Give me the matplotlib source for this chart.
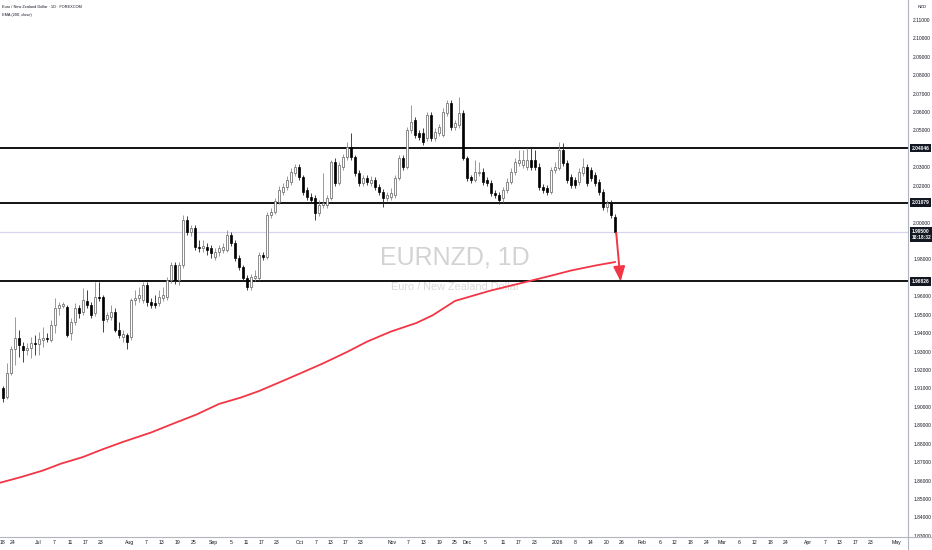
import matplotlib
matplotlib.use("Agg")
import matplotlib.pyplot as plt
from matplotlib.lines import Line2D

plt.rcParams["font.family"] = ["Liberation Sans Narrow", "Liberation Sans", "DejaVu Sans"]

# daily candles, bar index 0 = Jun 18 2025
opens = [
    1.9103, 1.9054, 1.9185, 1.9314, 1.9374, 1.9331, 1.9309, 1.9320, 1.9347, 1.9342,
    1.9363, 1.9374, 1.9363, 1.9445, 1.9537, 1.9548, 1.9542, 1.9401, 1.9461, 1.9537,
    1.9515, 1.9575, 1.9553, 1.9510, 1.9597, 1.9597, 1.9477, 1.9488, 1.9515, 1.9418,
    1.9380, 1.9390, 1.9380, 1.9580, 1.9591, 1.9580, 1.9662, 1.9569, 1.9564, 1.9564,
    1.9591, 1.9597, 1.9689, 1.9770, 1.9689, 1.9770, 2.0014, 1.9949, 1.9971, 1.9868,
    1.9862, 1.9868, 1.9862, 1.9814, 1.9841, 1.9852, 1.9852, 1.9933, 1.9890, 1.9808,
    1.9759, 1.9700, 1.9651, 1.9700, 1.9700, 1.9824, 1.9814, 2.0041, 2.0058, 2.0112,
    2.0166, 2.0193, 2.0220, 2.0269, 2.0302, 2.0248, 2.0177, 2.0139, 2.0134, 2.0052,
    2.0096, 2.0096, 2.0134, 2.0329, 2.0215, 2.0302, 2.0356, 2.0410, 2.0356, 2.0269,
    2.0215, 2.0242, 2.0215, 2.0231, 2.0193, 2.0166, 2.0134, 2.0139, 2.0150, 2.0242,
    2.0351, 2.0302, 2.0503, 2.0557, 2.0486, 2.0486, 2.0459, 2.0584, 2.0459, 2.0486,
    2.0475, 2.0595, 2.0649, 2.0519, 2.0530, 2.0595, 2.0351, 2.0248, 2.0231, 2.0269,
    2.0275, 2.0231, 2.0215, 2.0161, 2.0150, 2.0134, 2.0177, 2.0220, 2.0275, 2.0324,
    2.0313, 2.0302, 2.0340, 2.0340, 2.0302, 2.0193, 2.0188, 2.0166, 2.0286, 2.0296,
    2.0394, 2.0324, 2.0248, 2.0231, 2.0220, 2.0269, 2.0302, 2.0286, 2.0258, 2.0220,
    2.0166, 2.0085, 2.0107, 2.0031,
]
highs = [
    1.9114, 1.9239, 1.9331, 1.9488, 1.9418, 1.9352, 1.9347, 1.9380, 1.9390, 1.9407,
    1.9434, 1.9401, 1.9472, 1.9591, 1.9569, 1.9569, 1.9553, 1.9483, 1.9564, 1.9553,
    1.9645, 1.9635, 1.9569, 1.9678, 1.9678, 1.9607, 1.9515, 1.9553, 1.9537, 1.9461,
    1.9418, 1.9401, 1.9591, 1.9635, 1.9651, 1.9678, 1.9678, 1.9591, 1.9607, 1.9635,
    1.9651, 1.9705, 1.9786, 1.9786, 1.9786, 2.0041, 2.0036, 1.9987, 1.9987, 1.9906,
    1.9906, 1.9890, 1.9879, 1.9862, 1.9879, 1.9890, 1.9960, 1.9949, 1.9906, 1.9824,
    1.9770, 1.9716, 1.9721, 1.9743, 1.9841, 1.9841, 2.0058, 2.0080, 2.0134, 2.0199,
    2.0215, 2.0253, 2.0296, 2.0318, 2.0318, 2.0258, 2.0193, 2.0161, 2.0150, 2.0123,
    2.0269, 2.0150, 2.0340, 2.0351, 2.0329, 2.0373, 2.0437, 2.0486, 2.0367, 2.0286,
    2.0258, 2.0258, 2.0253, 2.0248, 2.0210, 2.0182, 2.0166, 2.0188, 2.0258, 2.0367,
    2.0367, 2.0519, 2.0638, 2.0573, 2.0503, 2.0513, 2.0600, 2.0600, 2.0513, 2.0535,
    2.0622, 2.0665, 2.0665, 2.0557, 2.0682, 2.0611, 2.0362, 2.0258, 2.0340, 2.0329,
    2.0296, 2.0248, 2.0231, 2.0177, 2.0166, 2.0193, 2.0242, 2.0296, 2.0351, 2.0394,
    2.0394, 2.0405, 2.0405, 2.0394, 2.0324, 2.0210, 2.0204, 2.0302, 2.0329, 2.0437,
    2.0432, 2.0340, 2.0264, 2.0248, 2.0296, 2.0351, 2.0318, 2.0302, 2.0275, 2.0237,
    2.0182, 2.0123, 2.0123, 2.0047,
]
lows = [
    1.9027, 1.9043, 1.9174, 1.9228, 1.9271, 1.9244, 1.9282, 1.9266, 1.9282, 1.9282,
    1.9325, 1.9352, 1.9352, 1.9401, 1.9499, 1.9537, 1.9380, 1.9363, 1.9445, 1.9483,
    1.9499, 1.9537, 1.9483, 1.9494, 1.9575, 1.9407, 1.9461, 1.9472, 1.9407, 1.9374,
    1.9352, 1.9314, 1.9363, 1.9553, 1.9569, 1.9564, 1.9548, 1.9537, 1.9537, 1.9548,
    1.9575, 1.9580, 1.9673, 1.9667, 1.9662, 1.9754, 1.9933, 1.9928, 1.9852, 1.9841,
    1.9841, 1.9824, 1.9808, 1.9797, 1.9819, 1.9835, 1.9841, 1.9873, 1.9792, 1.9743,
    1.9684, 1.9635, 1.9635, 1.9684, 1.9689, 1.9797, 1.9803, 2.0025, 2.0047, 2.0101,
    2.0150, 2.0177, 2.0204, 2.0253, 2.0231, 2.0150, 2.0123, 2.0107, 2.0014, 2.0036,
    2.0080, 2.0080, 2.0123, 2.0199, 2.0204, 2.0286, 2.0340, 2.0340, 2.0253, 2.0199,
    2.0199, 2.0204, 2.0199, 2.0177, 2.0150, 2.0085, 2.0117, 2.0123, 2.0134, 2.0231,
    2.0286, 2.0291, 2.0486, 2.0459, 2.0448, 2.0421, 2.0443, 2.0443, 2.0443, 2.0470,
    2.0465, 2.0579, 2.0503, 2.0503, 2.0513, 2.0340, 2.0226, 2.0215, 2.0220, 2.0253,
    2.0204, 2.0199, 2.0145, 2.0134, 2.0101, 2.0112, 2.0161, 2.0210, 2.0258, 2.0307,
    2.0296, 2.0286, 2.0286, 2.0286, 2.0177, 2.0161, 2.0150, 2.0155, 2.0269, 2.0286,
    2.0307, 2.0215, 2.0188, 2.0188, 2.0204, 2.0253, 2.0199, 2.0226, 2.0199, 2.0150,
    2.0069, 2.0058, 2.0025, 1.9944,
]
closes = [
    1.9049, 1.9185, 1.9314, 1.9374, 1.9336, 1.9309, 1.9320, 1.9347, 1.9342, 1.9369,
    1.9374, 1.9369, 1.9445, 1.9537, 1.9553, 1.9559, 1.9390, 1.9461, 1.9537, 1.9510,
    1.9580, 1.9553, 1.9499, 1.9597, 1.9591, 1.9472, 1.9499, 1.9515, 1.9418, 1.9390,
    1.9396, 1.9352, 1.9580, 1.9591, 1.9607, 1.9662, 1.9569, 1.9553, 1.9553, 1.9597,
    1.9607, 1.9689, 1.9770, 1.9689, 1.9770, 2.0014, 1.9949, 1.9971, 1.9868, 1.9862,
    1.9873, 1.9852, 1.9835, 1.9841, 1.9862, 1.9868, 1.9933, 1.9890, 1.9808, 1.9759,
    1.9700, 1.9651, 1.9705, 1.9711, 1.9824, 1.9814, 2.0041, 2.0058, 2.0117, 2.0177,
    2.0193, 2.0231, 2.0275, 2.0302, 2.0248, 2.0166, 2.0139, 2.0123, 2.0052, 2.0096,
    2.0107, 2.0134, 2.0329, 2.0215, 2.0313, 2.0356, 2.0410, 2.0356, 2.0269, 2.0215,
    2.0242, 2.0220, 2.0231, 2.0193, 2.0166, 2.0134, 2.0150, 2.0161, 2.0242, 2.0351,
    2.0302, 2.0503, 2.0546, 2.0475, 2.0465, 2.0437, 2.0584, 2.0459, 2.0492, 2.0519,
    2.0600, 2.0649, 2.0519, 2.0541, 2.0595, 2.0351, 2.0242, 2.0231, 2.0275, 2.0275,
    2.0220, 2.0215, 2.0161, 2.0150, 2.0123, 2.0177, 2.0220, 2.0275, 2.0329, 2.0340,
    2.0340, 2.0340, 2.0302, 2.0302, 2.0193, 2.0177, 2.0166, 2.0286, 2.0302, 2.0394,
    2.0324, 2.0231, 2.0204, 2.0204, 2.0275, 2.0302, 2.0215, 2.0242, 2.0215, 2.0166,
    2.0085, 2.0107, 2.0041, 1.9949,
]

# EMA(200) read at a number of bars
ema_bars = [-1, 4.3, 10, 14.5, 20, 24.8, 30, 37, 43, 48.3, 54, 59.5, 64, 70.7,
            74, 79.9, 86, 91, 97, 103.3, 107.4, 113, 121.7, 132, 137, 142,
            148.3, 153]
ema_vals = [1.8587, 1.8618, 1.8655, 1.8692, 1.8728, 1.8769, 1.8810, 1.8861,
            1.8913, 1.8958, 1.9016, 1.9051, 1.9086, 1.9148, 1.9179, 1.9235,
            1.9298, 1.9354, 1.9409, 1.9455, 1.9497, 1.9575, 1.9630, 1.9685,
            1.9712, 1.9740, 1.9768, 1.9786]

levels = [2.04046, 2.01079, 1.96826]
last_price = 1.99500
countdown = "18:18:32"

price_ticks = [2.11, 2.10, 2.09, 2.08, 2.07, 2.06, 2.05, 2.03, 2.02, 2.00,
               1.98, 1.96, 1.95, 1.94, 1.93, 1.92, 1.91, 1.90, 1.89, 1.88,
               1.87, 1.86, 1.85, 1.84, 1.83]

date_pos = [0, 2.3, 8.75, 12.75, 16.75, 20.75, 24.5, 31.75, 35.75, 39.75, 43.75,
            47.75, 52.5, 57, 60.75, 64.75, 68.5, 74.25, 78.25, 82, 85.75, 89.5,
            97.25, 101.25, 105.25, 109.25, 113, 116, 120.5, 125, 129, 133,
            138.75, 143, 147, 151, 154.75, 159.75, 164.25, 168, 172, 176,
            179.75, 184, 188, 192, 195.75, 201.25, 205.5, 209.25, 213.25, 217,
            223.5]
date_labels = ["18", "24", "Jul", "7", "11", "17", "23", "Aug", "7", "13", "19",
               "25", "Sep", "5", "11", "17", "23", "Oct", "7", "13", "17", "23",
               "Nov", "7", "13", "19", "25", "Dec", "5", "11", "17", "23",
               "2026", "8", "14", "20", "26", "Feb", "6", "12", "18", "24",
               "Mar", "6", "12", "18", "24", "Apr", "7", "13", "17", "23",
               "May"]

# projected move: from last close down to the lower level
arrow_from = (153.3, 1.9945)
arrow_to = (154.4, 1.9680)

RED = "#f23645"
AXIS = "#b2b5be"
TXT = "#131722"

fig = plt.figure(figsize=(9.32, 5.5), dpi=100)
ax = fig.add_axes([0, 13 / 550, 908 / 932, 537 / 550])
ax.set_xlim(-0.75, 226.25)
ax.set_ylim(1.8294, 2.1208)
for s in ax.spines.values():
    s.set_visible(False)

# level lines and last price line
for lv in levels:
    ax.axhline(lv, color="#000000", lw=1.3, zorder=2)
ax.axhline(last_price, color="#d8d3ee", lw=0.9, zorder=1)

# EMA
ax.plot(ema_bars, ema_vals, color=RED, lw=1.3, zorder=3,
        solid_joinstyle="round")

# candles
for i, (o, h, l, c) in enumerate(zip(opens, highs, lows, closes)):
    up = c >= o
    ax.vlines(i, l, h, color="#8a8a8a" if up else "#222222", lw=0.6, zorder=4)
    ax.bar(i, max(abs(c - o), 0.0003), bottom=min(o, c), width=0.7,
           color="#ffffff" if up else "#000000",
           edgecolor="#5e5e5e" if up else "#000000", lw=0.5, zorder=5)

ax.annotate("", xy=arrow_to, xytext=arrow_from,
            arrowprops=dict(arrowstyle="-|>,head_length=0.9,head_width=0.35",
                            color=RED, lw=1.4, shrinkA=0, shrinkB=0), zorder=6)

# watermark
ax.text(0.501, 0.52, "EURNZD, 1D", transform=ax.transAxes, ha="center",
        va="center", fontsize=18, color="#d3d3d3", zorder=0)
ax.text(0.501, 0.4655, "Euro / New Zealand Dollar", transform=ax.transAxes,
        ha="center", va="center", fontsize=7.8, color="#d9d9d9", zorder=0)

# legend lines
ax.text(0.0022, 0.987, "Euro / New Zealand Dollar · 1D · FOREXCOM",
        transform=ax.transAxes, fontsize=2.8, color=TXT, va="center")
ax.text(0.0022, 0.972, "EMA (200, close)", transform=ax.transAxes,
        fontsize=2.8, color=TXT, va="center")

# axes ticks
ax.yaxis.tick_right()
ax.set_yticks(price_ticks)
ax.set_yticklabels([f"{v:.5f}" for v in price_ticks])
ax.set_xticks(date_pos)
ax.set_xticklabels(date_labels)
ax.tick_params(axis="y", length=0, pad=3.8, labelsize=3.5, labelcolor=TXT)
ax.tick_params(axis="x", length=0, pad=2.5, labelsize=3.7, labelcolor=TXT)

# highlighted price labels
tr = ax.get_yaxis_transform()
for lv in levels:
    ax.text(1.004, lv, f"{lv:.5f}", transform=tr, ha="left", va="center",
            fontsize=3.5, color="white", weight="bold", clip_on=False,
            bbox=dict(boxstyle="square,pad=0.4", fc=TXT, ec="none"))
ax.text(1.004, last_price - 0.0016, f"{last_price:.5f}\n{countdown}", transform=tr,
        ha="left", va="center", fontsize=3.5, color="white", weight="bold",
        linespacing=1.3, clip_on=False,
        bbox=dict(boxstyle="square,pad=0.4", fc=TXT, ec="none"))

fig.text(918 / 932, 1 - 7 / 550, "NZD", fontsize=3.2, color=TXT, va="center")

# price / time axis borders
fig.add_artist(Line2D([908 / 932, 908 / 932], [0, 1], color=AXIS, lw=0.8))
fig.add_artist(Line2D([0, 1], [13 / 550, 13 / 550], color=AXIS, lw=0.8))

fig.savefig("out.png", dpi=100)
